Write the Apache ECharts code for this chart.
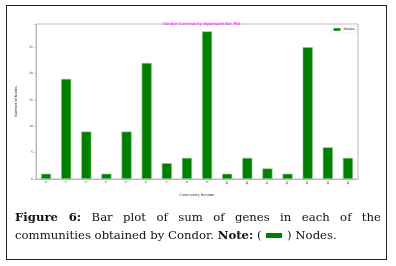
<!DOCTYPE html>
<html><head><meta charset="utf-8">
<script src="https://cdn.jsdelivr.net/npm/echarts@6/dist/echarts.min.js"></script>
<style>
html,body{margin:0;padding:0;background:#fff;}
#wrap{position:relative;width:396px;height:266px;overflow:hidden;}
#frame{position:absolute;left:6px;top:5px;width:379px;height:253px;border:1.5px solid #222;}
#chart{position:absolute;left:0;top:0;width:396px;height:266px;}
#cap{position:absolute;left:15px;top:209px;width:366px;font-family:"DejaVu Serif","Liberation Serif",serif;font-size:11.7px;line-height:17.5px;color:#111;text-align:justify;}
#cap b{font-weight:bold;}
.sw{display:inline-block;width:16px;height:5px;background:#008000;vertical-align:middle;margin:0 1px;}
</style></head>
<body>
<div id="wrap">
<div id="frame"></div>
<div id="chart"></div>
<div id="cap"><b>Figure 6:</b> Bar plot of sum of genes in each of the communities obtained by Condor. <b>Note:</b> ( <span class="sw"></span> ) Nodes.</div>
</div>
<script>
const categories = ['1','2','3','4','5','6','7','8','9','10','11','12','13','14','15','16'];
const nodes = [1,19,9,1,9,22,3,4,28,1,4,2,1,25,6,4];
const yTicks = [0,5,10,15,20,25];
const chart = echarts.init(document.getElementById('chart'), null, {renderer:'canvas'});
chart.setOption({
  animation:false,
  title:{text:'Condor Community Aggregate Bar Plot',left:197,top:16.5,textAlign:'center',
    textStyle:{color:'#ff00ff',fontSize:4,fontWeight:'normal',fontFamily:'DejaVu Sans'}},
  legend:{data:['Nodes'],right:40,top:26,itemWidth:7,itemHeight:2.5,itemGap:1,padding:[1.5,1.5],
    borderColor:'#e4e4e4',borderWidth:0.5,
    itemStyle:{borderWidth:0},
    textStyle:{fontSize:3.5,color:'#333',fontFamily:'DejaVu Sans',padding:[0,0,0,-2]},icon:'rect'},
  grid:{left:36,top:24,right:38,bottom:87,show:true,borderColor:'#bbb',borderWidth:1},
  xAxis:{type:'category',data:categories,
    axisLine:{lineStyle:{color:'#bbb',width:1}},
    axisTick:{alignWithLabel:true,length:2,lineStyle:{color:'#999',width:0.5}},
    axisLabel:{rotate:90,fontSize:3,color:'#444',margin:2,fontFamily:'DejaVu Sans'},
    name:'Community Number',nameLocation:'middle',nameGap:6,
    nameTextStyle:{fontSize:3.5,color:'#333',fontFamily:'DejaVu Sans'}},
  yAxis:{type:'value',min:0,max:29.4,interval:5,
    axisLine:{show:true,lineStyle:{color:'#bbb',width:1}},
    axisTick:{show:true,length:2,lineStyle:{color:'#999',width:0.5}},
    splitLine:{show:false},
    axisLabel:{fontSize:3,color:'#444',margin:3,fontFamily:'DejaVu Sans',
      formatter:v=>yTicks.includes(v)?String(v):''},
    name:'Number of Nodes',nameLocation:'middle',nameGap:9,nameRotate:90,
    nameTextStyle:{fontSize:3.5,color:'#333',fontFamily:'DejaVu Sans'}},
  series:[{name:'Nodes',type:'bar',data:nodes,barWidth:'50%',
    itemStyle:{color:'#008000',borderColor:'#8fcf8f',borderWidth:0.6}}]
});
</script>
</body></html>
